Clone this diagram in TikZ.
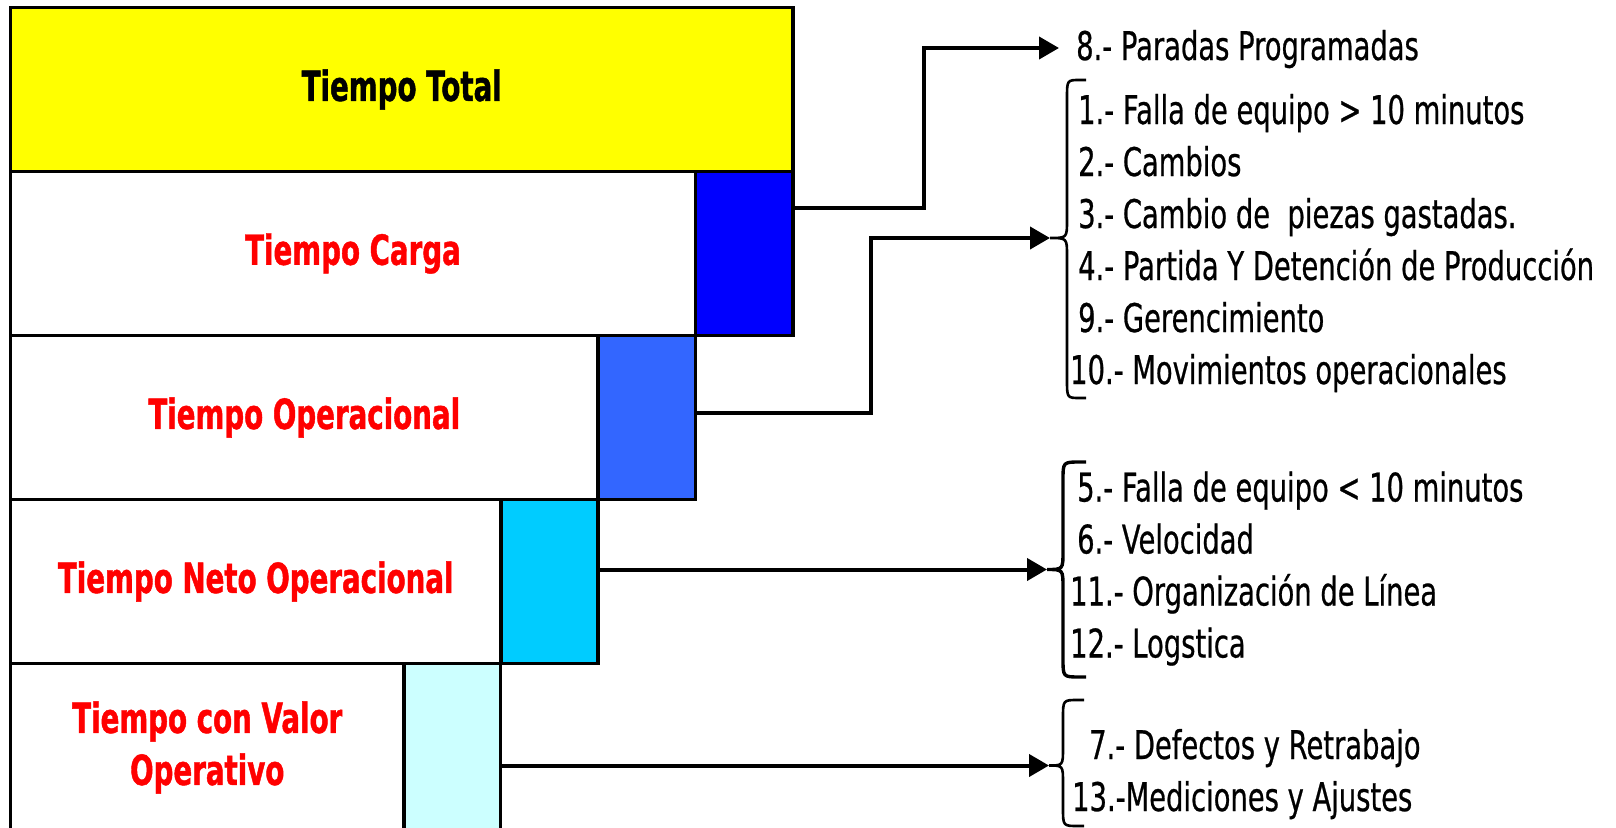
\documentclass[tikz,border=0pt]{standalone}
\usepackage{fontspec}
\usetikzlibrary{arrows.meta}
\newfontfamily\itemfont{DejaVu Sans}[FakeStretch=0.693,FakeBold=0.6]
\newfontfamily\labelfont{DejaVu Sans Bold}[FakeStretch=0.667,FakeBold=1.0]
\definecolor{lossA}{HTML}{0000FF}
\definecolor{lossB}{HTML}{3366FF}
\definecolor{lossC}{HTML}{00CCFF}
\definecolor{lossD}{HTML}{CCFFFF}
\definecolor{barYellow}{HTML}{FFFF00}
% curly brace: end x, spine x, tip x, top y, tip y, bottom y
\newcommand{\curlybrace}[7][]{%
  \draw[bracestyle,#1] (#2,#5) -- (#2-6,#5) .. controls (#3,#5) .. (#3,#5+18)
    -- (#3,#6-18) .. controls (#3,#6) .. (#4,#6)
    .. controls (#3,#6) .. (#3,#6+18)
    -- (#3,#7-18) .. controls (#3,#7) .. (#2-6,#7) -- (#2,#7);}
\begin{document}
\begin{tikzpicture}[x=1pt,y=-1pt,
  box/.style={draw=black, line width=3.5pt, anchor=north west, outer sep=0pt,
    inner sep=0pt, minimum height=164pt, text=red, align=center,
    font=\labelfont\fontsize{41.5}{52}\selectfont},
  item/.style={anchor=base west, inner sep=0pt,
    font=\itemfont\fontsize{39.5}{45}\selectfont},
  conn/.style={line width=4pt, -{Triangle[length=20pt,width=22pt]}},
  bracestyle/.style={line width=2.6pt}]
\useasboundingbox (0,0) rectangle (1616,827);
\clip (0,0) rectangle (1616,827);

% stacked time bars
\node[box, fill=barYellow, text=black, minimum width=782.5pt] (total) at (10.5,7.5) {Tiempo Total};
\node[box, fill=white, minimum width=685pt] (carga) at (10.5,171.5) {Tiempo Carga};
\node[box, fill=lossA, minimum width=97.5pt] (lossA) at (695.5,171.5) {};
\node[box, fill=white, minimum width=587.5pt] (oper) at (10.5,335.5) {Tiempo Operacional};
\node[box, fill=lossB, minimum width=97.5pt] (lossB) at (598,335.5) {};
\node[box, fill=white, minimum width=490.5pt] (neto) at (10.5,499.5) {Tiempo Neto Operacional};
\node[box, fill=lossC, minimum width=97pt] (lossC) at (501,499.5) {};
\node[box, fill=white, minimum width=393.5pt, minimum height=168pt] (valor) at (10.5,663.5) {Tiempo con Valor\\Operativo};
\node[box, fill=lossD, minimum width=96.5pt, minimum height=172pt] (lossD) at (404,663.5) {};

% loss lists
\node[item] (i8) at (1076,60) {8.- Paradas Programadas};
\node[item] (i1) at (1078,124) {1.- Falla de equipo > 10 minutos};
\node[item] (i2) at (1078,176) {2.- Cambios};
\node[item] (i3) at (1078,228) {3.- Cambio de\ \ piezas gastadas.};
\node[item] (i4) at (1078,280) {4.- Partida Y Detención de Producción};
\node[item] (i9) at (1078,332) {9.- Gerencimiento};
\node[item] (i10) at (1070,384) {10.- Movimientos operacionales};
\node[item] (i5) at (1077,501.5) {5.- Falla de equipo < 10 minutos};
\node[item] (i6) at (1077,553.5) {6.- Velocidad};
\node[item] (i11) at (1070,605.5) {11.- Organización de Línea};
\node[item] (i12) at (1070,657.5) {12.- Logstica};
\node[item] (i7) at (1089,759) {7.- Defectos y Retrabajo};
\node[item] (i13) at (1072,811) {13.-Mediciones y Ajustes};

% brace tips
\coordinate (tip8) at (1059,48);
\coordinate (tipB) at (1050,238);
\coordinate (tipC) at (1047,569.5);
\coordinate (tipD) at (1049,765.5);

\curlybrace{1086}{1067}{1050}{80}{238}{398}
\curlybrace[line width=3.4pt]{1086}{1063}{1047}{462}{569.5}{677}
\curlybrace{1084}{1063}{1049}{700}{765.5}{826}

% connectors
\draw[conn] ([yshift=-36pt]lossA.north east) -- ++(130.5,0) |- (tip8);
\draw[conn] ([yshift=5pt]lossB.east) -- ++(175.5,0) |- (tipB);
\draw[conn] ([yshift=12pt]lossC.east) -- (tipC);
\draw[conn] ([yshift=-16pt]lossD.east) -- (tipD);
\end{tikzpicture}
\end{document}
